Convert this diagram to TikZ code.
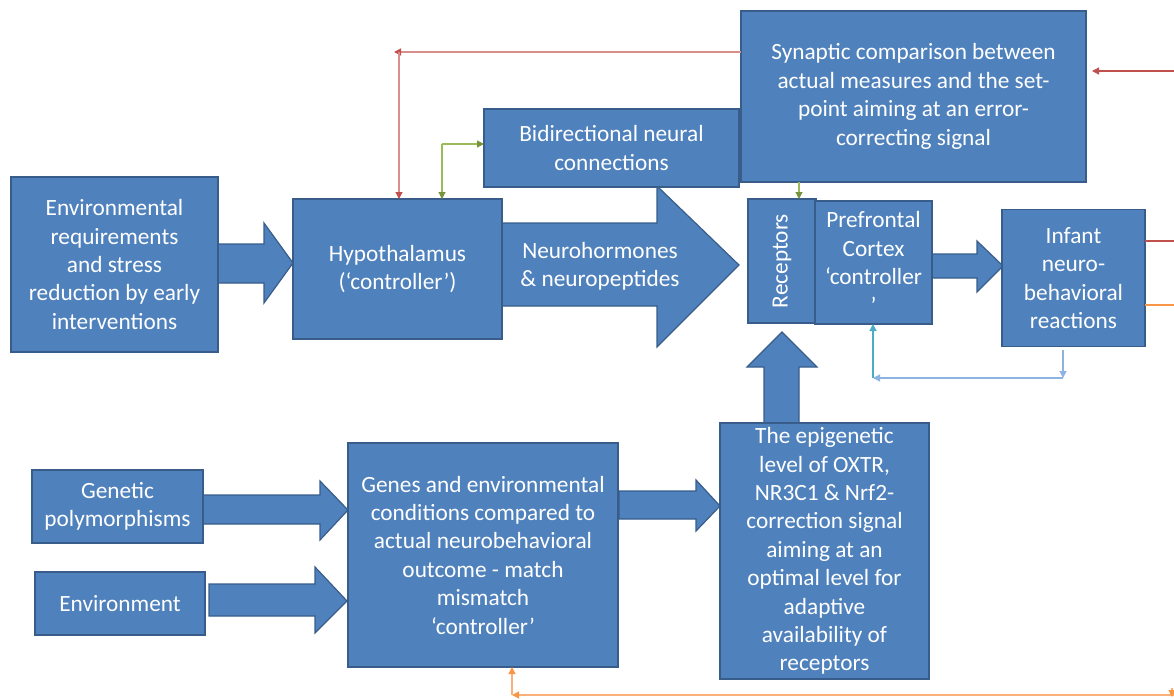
\documentclass[tikz,border=0pt]{standalone}
\usepackage{fontspec}
\setmainfont{Carlito}
\usetikzlibrary{arrows.meta}
\definecolor{boxc}{HTML}{4F81BD}
\definecolor{bordc}{HTML}{385D8A}
\definecolor{redc}{HTML}{C0504D}
\definecolor{redl}{HTML}{DA8E8C}
\definecolor{greenc}{HTML}{77933C}
\definecolor{greenl}{HTML}{9BBB59}
\definecolor{cyanc}{HTML}{4BACC6}
\definecolor{bluel}{HTML}{8DB3E2}
\definecolor{orangec}{HTML}{F79646}
\definecolor{orangel}{HTML}{F9B07A}
\newcommand\diagfont{\fontsize{23.3pt}{28.4pt}\selectfont}
\tikzset{
  box/.style={draw=bordc, fill=boxc, line width=1.2pt, text=white, align=center,
    inner sep=0pt, outer sep=0pt, font=\diagfont},
  barrow/.style={draw=bordc, fill=boxc, line width=1.2pt, line join=miter},
  lbl/.style={text=white, align=center, inner sep=0pt, font=\diagfont},
  conn/.style={line width=1.2pt},
  tipc/.style={-{Triangle[length=7pt,width=7pt,color=#1]}}
}
\begin{document}
\begin{tikzpicture}[x=1pt,y=-1pt]
\useasboundingbox (0,0) rectangle (1174,699);

% block arrows
\draw[barrow] (216,244) -- (264,244) -- (264,223) -- (293,263) -- (264,303) -- (264,283) -- (216,283) -- cycle;
\draw[barrow] (502,223) -- (657,223) -- (657,186) -- (739,265) -- (657,347) -- (657,306) -- (502,306) -- cycle;
\draw[barrow] (929,254) -- (977,254) -- (977,241) -- (1003,266) -- (977,292) -- (977,278) -- (929,278) -- cycle;
\draw[barrow] (203,495) -- (320,495) -- (320,481) -- (348,510) -- (320,540) -- (320,524) -- (203,524) -- cycle;
\draw[barrow] (209,584) -- (315,584) -- (315,567) -- (347,601) -- (315,633) -- (315,616) -- (209,616) -- cycle;
\draw[barrow] (619,491) -- (696,491) -- (696,480) -- (720,506) -- (696,531) -- (696,519) -- (619,519) -- cycle;
\draw[barrow] (764,423) -- (764,367) -- (747,367) -- (782,332) -- (817,367) -- (799,367) -- (799,423) -- cycle;

\node[lbl] (nh) at (600,266) {Neurohormones\\\& neuropeptides};

% boxes
\node[box, minimum width=207pt, minimum height=175pt] (env) at (114.5,264.5)
  {Environmental\\requirements\\and stress\\reduction by early\\interventions};
\node[box, minimum width=209pt, minimum height=140pt] (hypo) at (397.5,269)
  {Hypothalamus\\(‘controller’)};
\node[box, minimum width=255pt, minimum height=78pt] (bidir) at (611.5,148)
  {Bidirectional neural\\connections};
\node[box, minimum width=345pt, minimum height=171pt] (syn) at (913.5,96.5)
  {Synaptic comparison between\\actual measures and the set-\\point aiming at an error-\\correcting signal};
\node[box, minimum width=68pt, minimum height=124pt] (rec) at (782,261)
  {\rotatebox{90}{Receptors}};
\node[box, minimum width=117pt, minimum height=123pt] (pfc) at (873.5,262.5)
  {Prefrontal\\Cortex\\‘controller\\’};
\node[box, minimum width=143pt, minimum height=137pt] (inf) at (1073.5,278)
  {Infant\\neuro-\\behavioral\\reactions};
\node[box, minimum width=171pt, minimum height=73pt] (gen) at (117.5,506.5)
  {Genetic\\polymorphisms};
\node[box, minimum width=170pt, minimum height=63pt] (envr) at (120,603.5)
  {Environment};
\node[box, minimum width=270pt, minimum height=224pt] (genes) at (483,555)
  {Genes and environmental\\conditions compared to\\actual neurobehavioral\\outcome - match\\mismatch\\‘controller’};
\node[box, minimum width=209pt, minimum height=256pt] (epi) at (824.5,551)
  {The epigenetic\\level of OXTR,\\NR3C1 \& Nrf2-\\correction signal\\aiming at an\\optimal level for\\adaptive\\availability of\\receptors};

% red feedback
\coordinate (rT) at (399,52);
\coordinate (rL) at (394,52);
\coordinate (rR) at (1174,71);
\coordinate (rE) at (1092,71);
\draw[conn, draw=redl, tipc=redc] (syn.west |- rT) -- (rL);
\draw[conn, draw=redl, tipc=redc] (rT) -- (rT |- hypo.north);
\draw[conn, draw=redc, tipc=redc] (rR) -- (rE);
\coordinate (rI) at (1174,241);
\draw[conn, draw=redc] (inf.east |- rI) -- (rI);

% green
\coordinate (gC) at (442,144);
\draw[conn, draw=greenl, tipc=greenc] (gC) -- (bidir.west |- gC);
\draw[conn, draw=greenl, tipc=greenc] (gC) -- (gC |- hypo.north);
\coordinate (gS) at (799,182);
\draw[conn, draw=greenl, tipc=greenc] (gS) -- (gS |- rec.north);

% cyan / light blue
\coordinate (cB) at (873,378);
\coordinate (cR) at (1063,378);
\draw[conn, draw=cyanc, tipc=cyanc] (cB) -- (cB |- pfc.south);
\draw[conn, draw=bluel, tipc=bluel] (cR) -- (cB);
\draw[conn, draw=bluel, tipc=bluel] (cR |- inf.south) ++(0,3) -- (cR);

% orange
\coordinate (oB) at (512,695);
\coordinate (oR) at (1174,695);
\coordinate (oI) at (1174,305);
\draw[conn, draw=orangec] (inf.east |- oI) -- (oI);
\draw[conn, draw=orangel, tipc=orangec] (oR) -- (oB);
\draw[conn, draw=orangel, tipc=orangec] (oB) -- (oB |- genes.south);
\coordinate (oD1) at (1172,688);
\coordinate (oD2) at (1172,697);
\draw[conn, draw=orangel, tipc=orangec] (oD1) -- (oD2);
\end{tikzpicture}
\end{document}
